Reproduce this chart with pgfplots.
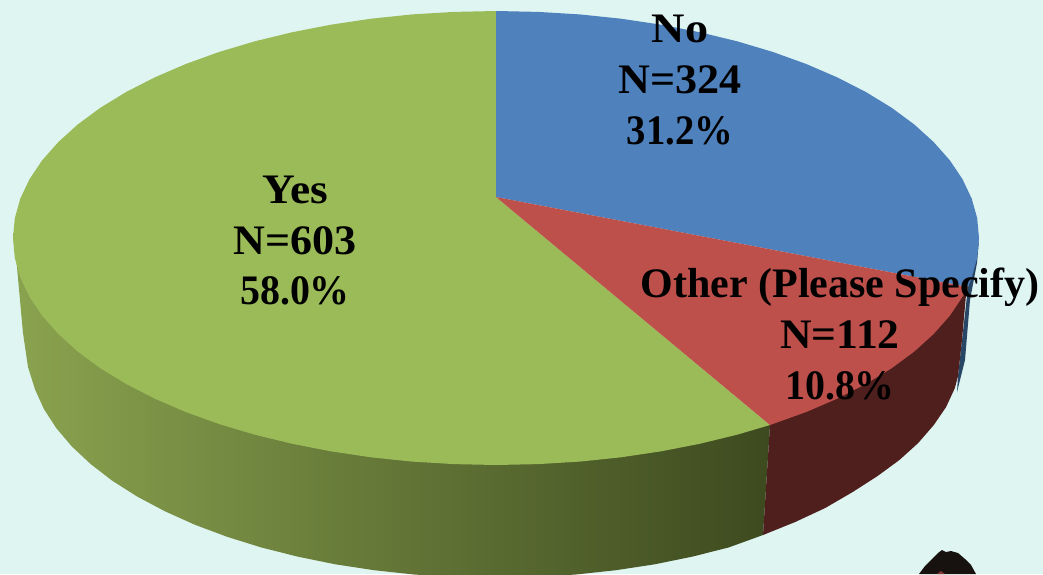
\documentclass[border=0pt]{standalone}
\usepackage{graphicx}
\usepackage{pgfplots}
\pgfplotsset{compat=1.18}
\usepackage{fontspec}
\setmainfont{Liberation Serif}
\definecolor{bgc}{HTML}{DFF5F2}
\definecolor{gtop}{HTML}{9BBB59}
\definecolor{btop}{HTML}{4F81BD}
\definecolor{rtop}{HTML}{BE504C}
\definecolor{rside}{HTML}{4F1F1E}
\definecolor{bside}{HTML}{284766}
\definecolor{gs1}{HTML}{8AA34F}
\definecolor{gs2}{HTML}{62763A}
\definecolor{gs3}{HTML}{3D4A1F}
\definecolor{hair}{HTML}{17120F}
\tikzset{lab/.style={font=\fontsize{42}{42}\selectfont\bfseries, anchor=base, inner sep=0pt, text=black}}
\newcommand{\sx}[2]{\scalebox{#1}[1]{#2}}
\begin{document}
\begin{tikzpicture}
\begin{axis}[
  scale only axis, width=1043pt, height=574pt,
  xmin=0, xmax=1043, ymin=0, ymax=574, y dir=reverse,
  hide axis, clip=true, no markers,
  every axis plot/.append style={forget plot, draw=none},
]
% background
\addplot[fill=bgc] coordinates {(0,0)(1043,0)(1043,574)(0,574)};
% small dark shape at the lower edge
\addplot[fill=hair] coordinates {(919,574)(925,566)(932,559)(938,553)(942,550)(946,552)(951,551)(958,553)(965,559)(971,565)(976,574)};
\addplot[fill=rtop!70!black] coordinates {(937,574)(941,571)(945,574)};
% blue side sliver
\addplot[fill=bside] coordinates {(979,240)(968,287)(958,376)(957,392)(961,376)(965,360)(970,300)(977,263)};
% green side
\addplot[left color=gs1, middle color=gs2, right color=gs3, draw=none] coordinates {
(13,233)(496,238)(770,425)(763,535)
(728.5,547.5)(692.4,556.6)(654.7,564.3)(615.9,570.2)(576.1,574.5)(535.7,577.1)(495,578)
(454.3,577.1)(413.9,574.5)(374.1,570.2)(335.3,564.3)(297.6,556.6)(261.5,547.5)(227.1,536.8)
(194.8,524.7)(164.8,511.2)(137.3,496.6)(112.4,480.8)(90.6,464)(71.8,446.4)(56.2,428)(43.9,409)(35.1,389.6)
(28,367)(23,333)(17,267)};
% red side
\addplot[fill=rside] coordinates {
(968,287)(770,425)(763,535)
(795.2,522)(825.2,508)(852.7,492)(877.6,476)(899.4,460)(918.2,443)(933.8,425)(946.1,407)(954.9,388)
(958,376)(962,340)(966,295)};
% top: green slice
\addplot[fill=gtop] coordinates {
(496,197)(770,425)
(737.5,434.6)(700.1,443.7)(661.2,451.3)(621,457.3)(579.8,461.6)(538.1,464.1)(496,465)
(453.9,464.1)(412.2,461.6)(371,457.3)(330.8,451.3)(291.9,443.7)(254.5,434.6)(219,424)
(185.5,411.9)(154.5,398.5)(126,383.9)(100.3,368.2)(77.7,351.5)(58.3,333.9)(42.1,315.6)(29.5,296.8)(20.3,277.4)(14.8,257.8)(13,238)
(14.8,218.2)(20.3,198.6)(29.5,179.2)(42.1,160.4)(58.3,142.1)(77.7,124.5)(100.3,107.8)(126,92.1)(154.5,77.5)(185.5,64.1)(219,52)(254.5,41.4)(291.9,32.3)(330.8,24.7)(371,18.7)(412.2,14.4)(453.9,11.9)(496,11)
};
% top: blue slice
\addplot[fill=btop] coordinates {
(496,197)(496,11)
(538.1,11.9)(579.8,14.4)(621,18.7)(661.2,24.7)(700.1,32.3)(737.5,41.4)(773,52)
(806.5,64.1)(837.5,77.5)(866,92.1)(891.7,107.8)(914.3,124.5)(933.7,142.1)(949.9,160.4)(962.5,179.2)(971.7,198.6)(977.2,218.2)(979,238)(977.2,257.8)(971.7,277.4)(968,287)
};
% top: red slice
\addplot[fill=rtop] coordinates {
(496,197)(968,287)(962.5,296.8)(949.9,315.6)(933.7,333.9)(914.3,351.5)(891.7,368.2)(866,383.9)(837.5,398.5)(806.5,411.9)(770,425)
};
% labels
\node[lab] at (axis cs:680,42) {\sx{1.1}{No}};
\node[lab] at (axis cs:680,93) {\sx{1.05}{N=324}};
\node[lab] at (axis cs:680,144) {\sx{0.92}{31.2\%}};
\node[lab] at (axis cs:295,203) {\sx{1.08}{Yes}};
\node[lab] at (axis cs:295,254) {\sx{1.05}{N=603}};
\node[lab] at (axis cs:295,304) {\sx{0.95}{58.0\%}};
\node[lab] at (axis cs:840,297) {Other (Please Specify)};
\node[lab] at (axis cs:840,348) {\sx{1.04}{N=112}};
\node[lab] at (axis cs:840,399) {\sx{0.95}{10.8\%}};
\end{axis}
\end{tikzpicture}
\end{document}
